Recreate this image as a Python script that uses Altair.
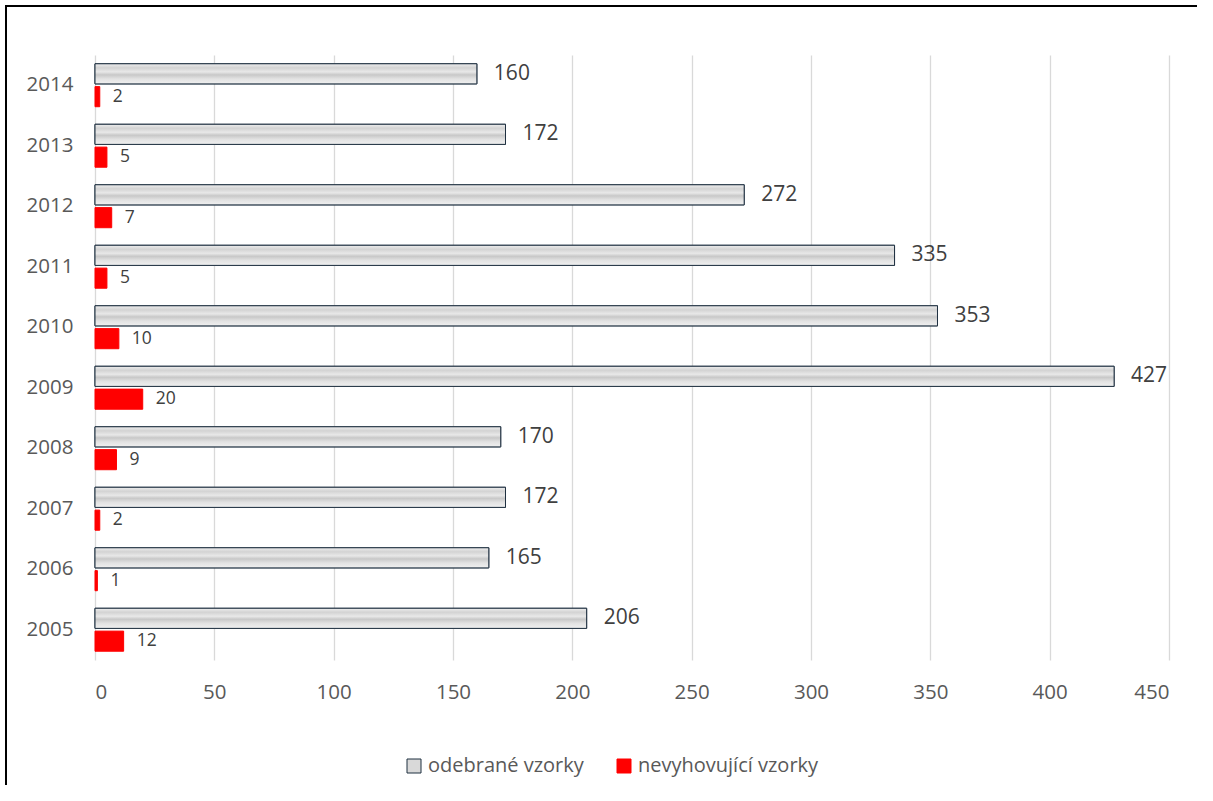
import altair as alt
import pandas as pd

years = [2005, 2006, 2007, 2008, 2009, 2010, 2011, 2012, 2013, 2014]
odebrane = [206, 165, 172, 170, 427, 353, 335, 272, 172, 160]
nevyhovujici = [12, 1, 2, 9, 20, 10, 5, 7, 5, 2]
series_names = ["odebrané vzorky", "nevyhovující vzorky"]
x_ticks = [0, 50, 100, 150, 200, 250, 300, 350, 400, 450]

rows = []
for y, a, b in zip(years, odebrane, nevyhovujici):
    rows.append({"rok": y, "serie": series_names[0], "hodnota": a})
    rows.append({"rok": y, "serie": series_names[1], "hodnota": b})
df = pd.DataFrame(rows)

FONT = "Open Sans"

y_enc = alt.Y(
    "rok:O",
    sort="descending",
    title=None,
    scale=alt.Scale(paddingInner=0.29, paddingOuter=0.145),
    axis=alt.Axis(domain=False, ticks=False, labelPadding=22, labelFontSize=20.5,
                  labelColor="#595959", labelFont=FONT),
)
yoff = alt.YOffset("serie:N", sort=series_names,
                   scale=alt.Scale(paddingInner=0.12, paddingOuter=0))
x_enc = alt.X(
    "hodnota:Q",
    title=None,
    scale=alt.Scale(domain=[0, 450], nice=False),
    axis=alt.Axis(values=x_ticks, grid=True, gridColor="#d9d9d9", gridWidth=1.3,
                  domain=False, ticks=False, labelPadding=22, labelFontSize=20.5,
                  labelColor="#595959", labelFont=FONT),
)

base = alt.Chart(df)

bars = base.mark_bar(strokeWidth=1).encode(
    x=x_enc,
    y=y_enc,
    yOffset=yoff,
    color=alt.Color(
        "serie:N",
        sort=series_names,
        scale=alt.Scale(domain=series_names, range=["#d9d9d9", "#ff0000"]),
        legend=alt.Legend(
            orient="none", legendX=309, legendY=701, direction="horizontal",
            title=None, symbolType="square", symbolSize=196, symbolStrokeWidth=1,
            labelFontSize=20, labelColor="#595959", labelFont=FONT, labelLimit=0,
            columnPadding=30, labelOffset=4,
        ),
    ),
    stroke=alt.Stroke(
        "serie:N",
        sort=series_names,
        scale=alt.Scale(domain=series_names, range=["#1f3040", "#ff0000"]),
        legend=None,
    ),
)

# streaked grey fill for the sample totals
streak = alt.Gradient(
    gradient="linear", x1=0, x2=0, y1=0, y2=1,
    stops=[
        alt.GradientStop(offset=0.0, color="#eeeeee"),
        alt.GradientStop(offset=0.2, color="#d3d3d3"),
        alt.GradientStop(offset=0.4, color="#e8e8e8"),
        alt.GradientStop(offset=0.55, color="#c8c8c8"),
        alt.GradientStop(offset=0.75, color="#e2e2e2"),
        alt.GradientStop(offset=1.0, color="#f0f0f0"),
    ],
)
grey = base.transform_filter(alt.datum.serie == series_names[0]).mark_bar(
    fill=streak, stroke="#1f3040", strokeWidth=1
).encode(x=x_enc, y=y_enc, yOffset=yoff)

labels_big = base.transform_filter(alt.datum.serie == series_names[0]).mark_text(
    align="left", baseline="middle", dx=17, fontSize=21, color="#404040", font=FONT
).encode(x=x_enc, y=y_enc, yOffset=yoff, text="hodnota:Q")

labels_small = base.transform_filter(alt.datum.serie == series_names[1]).mark_text(
    align="left", baseline="middle", dx=13, fontSize=17.5, color="#404040", font=FONT
).encode(x=x_enc, y=y_enc, yOffset=yoff, text="hodnota:Q")

# outer frame: top and left edges only
one_row = base.transform_filter(alt.datum.rok == 2005).transform_filter(
    alt.datum.serie == series_names[0]
)
frame_top = one_row.mark_rule(color="black", strokeWidth=2).encode(
    x=alt.value(-89), x2=alt.value(1102), y=alt.value(-49)
)
frame_left = one_row.mark_rule(color="black", strokeWidth=2).encode(
    x=alt.value(-89), y=alt.value(-50), y2=alt.value(850)
)

chart = alt.layer(bars, grey, labels_big, labels_small, frame_top, frame_left).properties(
    width=1074,
    height=605,
    padding={"left": 95, "top": 55, "right": 30, "bottom": 125},
    autosize="none",
    background="white",
).configure_view(stroke=None)

chart.save("out.html", embed_options={"renderer": "svg", "actions": False})
